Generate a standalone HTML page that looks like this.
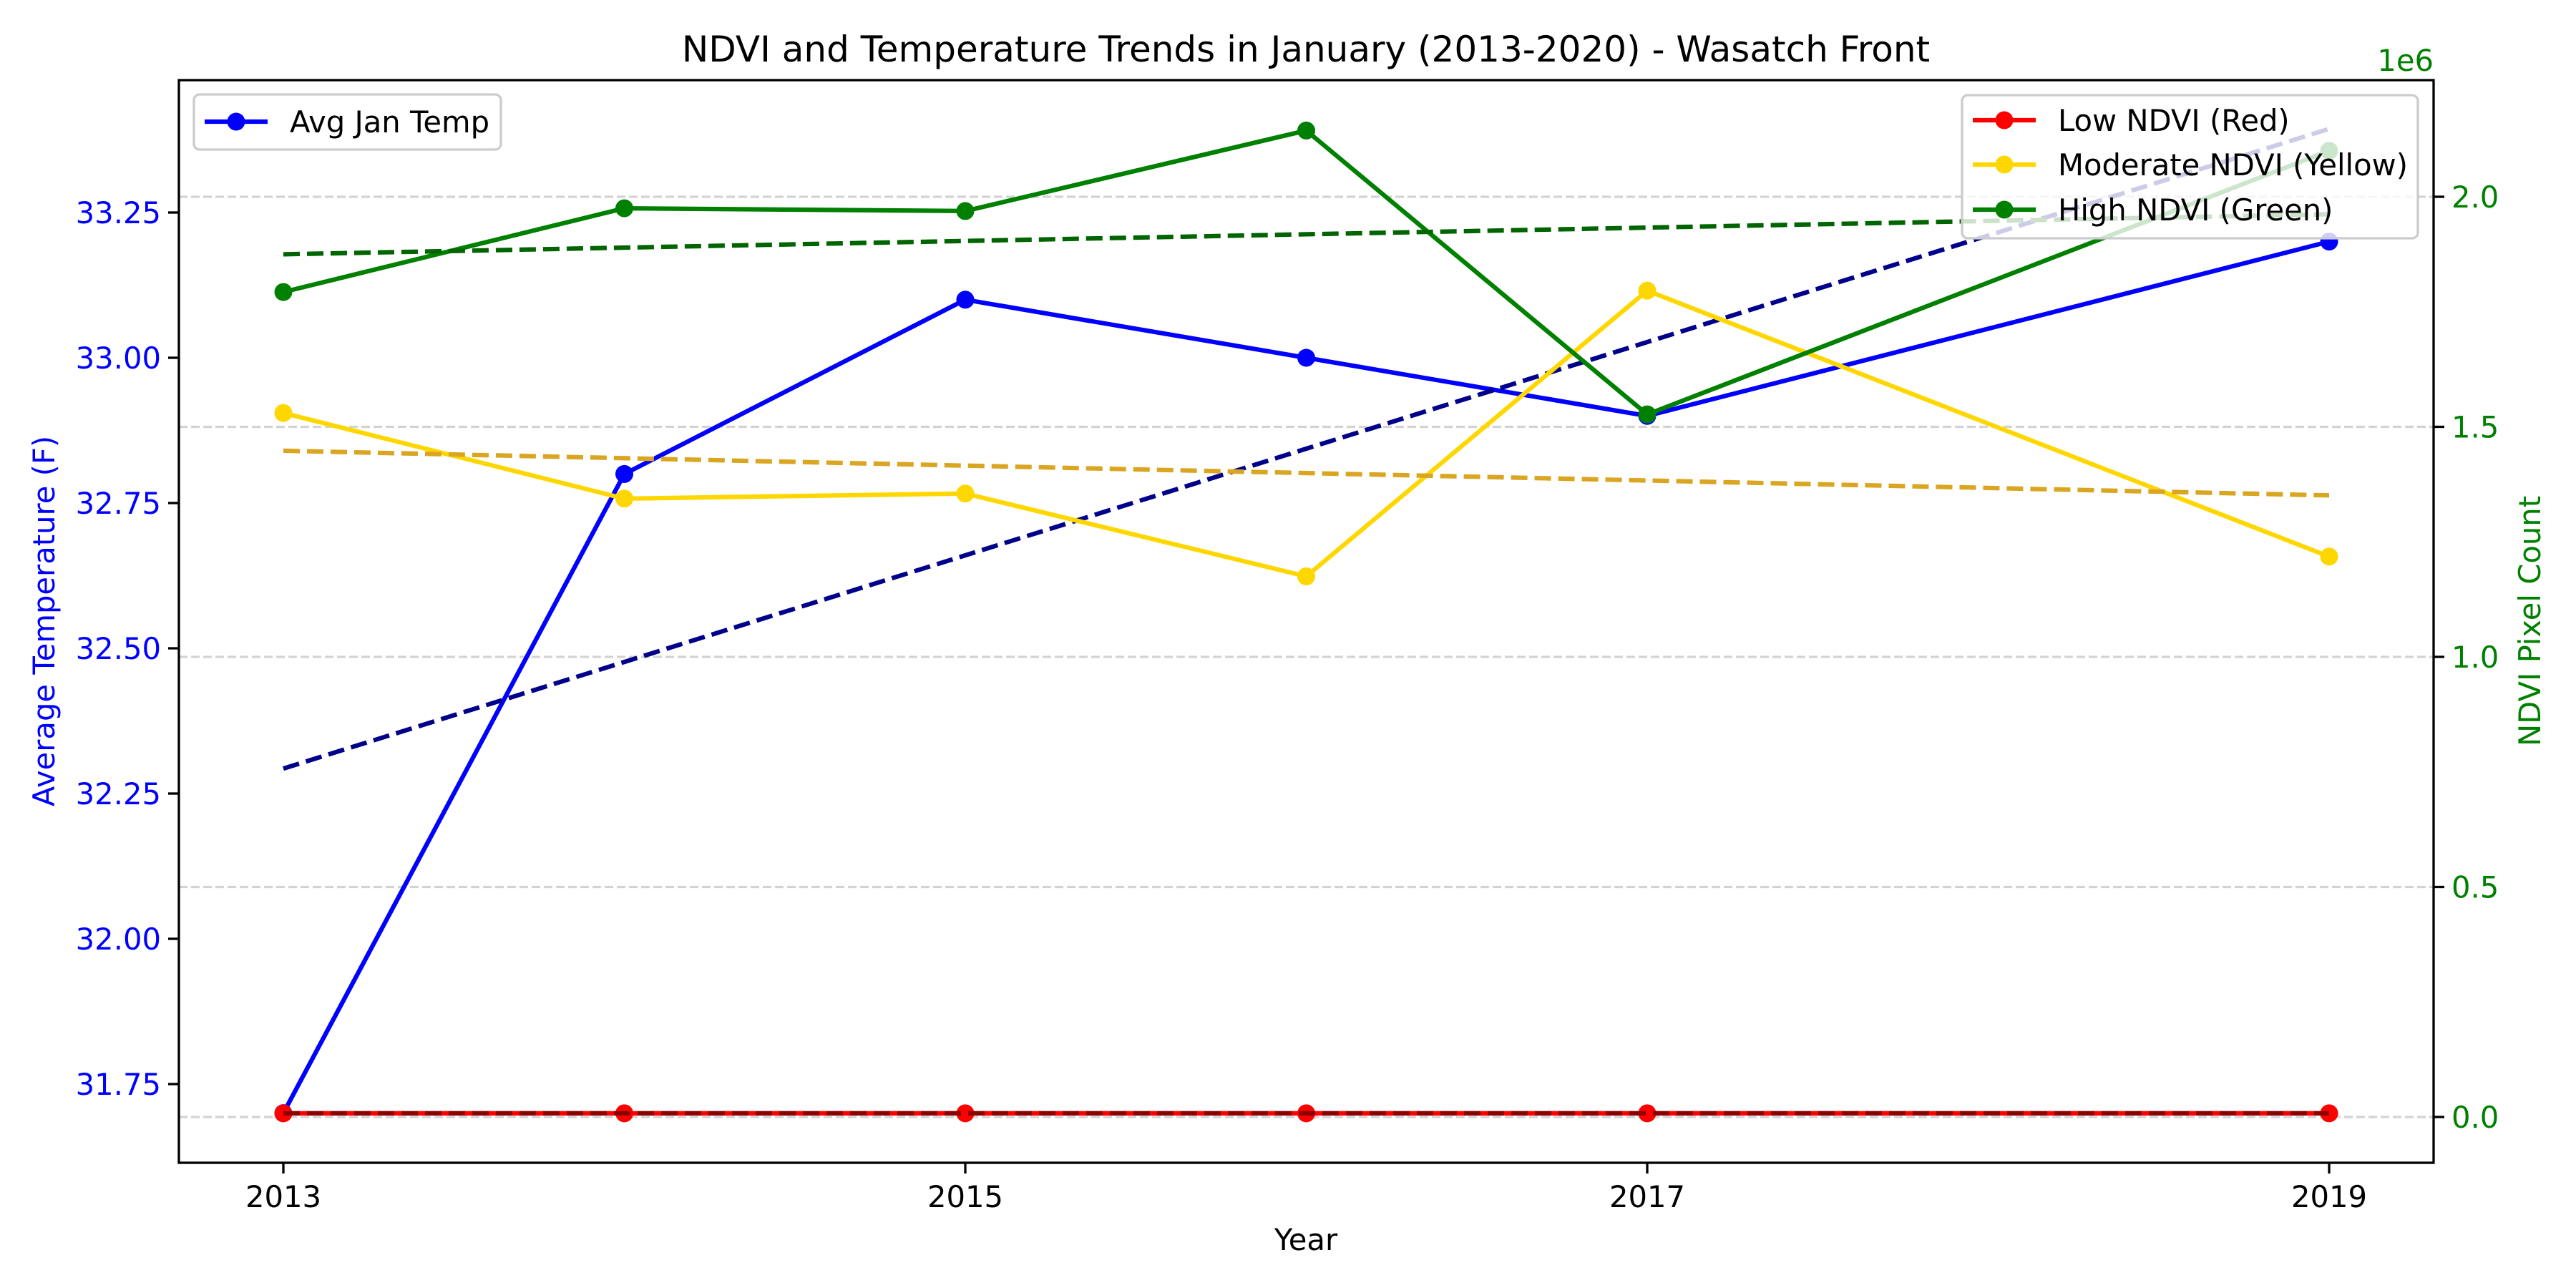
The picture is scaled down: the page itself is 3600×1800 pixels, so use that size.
<!DOCTYPE html>
<html><head><meta charset="utf-8"><style>
html,body{margin:0;padding:0;background:#fff}
svg{display:block;font-family:"DejaVu Sans","Liberation Sans",sans-serif}
</style></head><body>
<svg id="chart" width="3600" height="1800" viewBox="0 0 3600 1800" xmlns="http://www.w3.org/2000/svg">
<rect width="3600" height="1800" fill="#fff"/>
<g id="grid"></g>
<g id="series"></g>
<g id="axes"></g>
<g id="legends"></g>
</svg>
<script>
const years = [2013, 2014, 2015, 2016, 2017, 2019];
const tempValues = [31.70, 32.80, 33.10, 33.00, 32.90, 33.20];
const tempTrend = [32.293, 33.394];
const lowNdvi = [0.008, 0.008, 0.008, 0.008, 0.008, 0.008];
const lowTrend = [0.008, 0.008];
const modNdvi = [1.53, 1.344, 1.355, 1.175, 1.796, 1.218];
const modTrend = [1.448, 1.351];
const highNdvi = [1.793, 1.975, 1.969, 2.144, 1.527, 2.10];
const highTrend = [1.875, 1.962];
const xTicks = [2013, 2015, 2017, 2019];
const tempTicks = [31.75, 32.00, 32.25, 32.50, 32.75, 33.00, 33.25];
const ndviTicks = [0.0, 0.5, 1.0, 1.5, 2.0];

const NS = "http://www.w3.org/2000/svg";
const L = 250, R = 3401, T = 112, B = 1625;
const xs = y => 396 + (y - 2013) * 476.5;
const yT = v => 500 - (v - 33) * 812;
const yN = v => 1561 - v * 643;
function mk(tag, attrs, parent, text) {
  const e = document.createElementNS(NS, tag);
  for (const k in attrs) e.setAttribute(k, attrs[k]);
  if (text !== undefined) e.textContent = text;
  parent.appendChild(e);
  return e;
}
const grid = document.getElementById('grid');
const series = document.getElementById('series');
const axes = document.getElementById('axes');

ndviTicks.forEach(t => {
  const g = mk('line', {x1: L, x2: R, y1: yN(t), y2: yN(t), stroke: '#d3d3d3', 'stroke-width': 3.3, 'stroke-dasharray': '12 5'}, grid);
  
  
});

function drawSeries(vals, yf, color, name) {
  const pts = years.map((y, i) => xs(y) + ',' + yf(vals[i])).join(' ');
  const pl = mk('polyline', {points: pts, fill: 'none', stroke: color, 'stroke-width': 6.25, 'stroke-linejoin': 'round'}, series);
  
  
  years.forEach((y, i) => {
    const c = mk('circle', {cx: xs(y), cy: yf(vals[i]), r: 12.5, fill: color}, series);
    
    
  });
}
function drawTrend(vals, yf, color, name) {
  const l = mk('line', {x1: xs(years[0]), x2: xs(years[years.length - 1]), y1: yf(vals[0]), y2: yf(vals[1]), stroke: color, 'stroke-width': 6.25, 'stroke-dasharray': '23 10'}, series);
  
  
}
drawSeries(tempValues, yT, '#0000ff', 'avg-jan-temp');
drawTrend(tempTrend, yT, '#00008b', 'temp');
drawSeries(lowNdvi, yN, '#ff0000', 'low-ndvi');
drawTrend(lowTrend, yN, '#8b0000', 'low-ndvi');
drawSeries(modNdvi, yN, '#ffd700', 'moderate-ndvi');
drawTrend(modTrend, yN, '#daa520', 'moderate-ndvi');
drawSeries(highNdvi, yN, '#008000', 'high-ndvi');
drawTrend(highTrend, yN, '#006400', 'high-ndvi');

const fr = mk('rect', {x: L, y: T, width: R - L, height: B - T, fill: 'none', stroke: '#000', 'stroke-width': 3.3}, axes);



xTicks.forEach(t => {
  mk('line', {x1: xs(t), x2: xs(t), y1: B, y2: B + 15, stroke: '#000', 'stroke-width': 3.3}, axes);
  const tx = mk('text', {x: xs(t), y: 1687, 'font-size': 41.7, 'text-anchor': 'middle', fill: '#000'}, axes, String(t));
  
  
});
tempTicks.forEach(t => {
  mk('line', {x1: L - 15, x2: L, y1: yT(t), y2: yT(t), stroke: '#000', 'stroke-width': 3.3}, axes);
  const tx = mk('text', {x: L - 25, y: yT(t) + 15, 'font-size': 41.7, 'text-anchor': 'end', fill: '#0000ff'}, axes, t.toFixed(2));
  
  
});
ndviTicks.forEach(t => {
  mk('line', {x1: R, x2: R + 15, y1: yN(t), y2: yN(t), stroke: '#000', 'stroke-width': 3.3}, axes);
  const tx = mk('text', {x: R + 25, y: yN(t) + 15, 'font-size': 41.7, 'text-anchor': 'start', fill: '#008000'}, axes, t.toFixed(1));
  
  
});
</script>
<script>
(function(){
const NS = "http://www.w3.org/2000/svg";
const svg = document.getElementById('chart');
function t(attrs, text, name){
  const e = document.createElementNS(NS, 'text');
  for (const k in attrs) e.setAttribute(k, attrs[k]);
  e.textContent = text;
  
  
  svg.appendChild(e);
}
t({x: 1825, y: 86, 'font-size': 50, 'text-anchor': 'middle', fill: '#000'}, 'NDVI and Temperature Trends in January (2013-2020) - Wasatch Front', 'chart-title');
t({x: 1825, y: 1747, 'font-size': 41.7, 'text-anchor': 'middle', fill: '#000'}, 'Year', 'x-axis-title');
t({x: 76, y: 868, 'font-size': 41.7, 'text-anchor': 'middle', fill: '#0000ff', transform: 'rotate(-90 76 868)'}, 'Average Temperature (F)', 'left-y-axis-title');
t({x: 3550, y: 868, 'font-size': 41.7, 'text-anchor': 'middle', fill: '#008000', transform: 'rotate(-90 3550 868)'}, 'NDVI Pixel Count', 'right-y-axis-title');
t({x: 3401, y: 99, 'font-size': 41.7, 'text-anchor': 'end', fill: '#008000'}, '1e6', 'right-axis-offset-label');

function legend(x, y, w, h, entries, name){
  const g = document.createElementNS(NS, 'g');
  
  
  svg.appendChild(g);
  const r = document.createElementNS(NS, 'rect');
  const a = {x: x, y: y, width: w, height: h, rx: 8, fill: '#fff', 'fill-opacity': 0.8, stroke: '#cccccc', 'stroke-width': 3.3};
  for (const k in a) r.setAttribute(k, a[k]);
  g.appendChild(r);
  entries.forEach(en => {
    const l = document.createElementNS(NS, 'line');
    const la = {x1: x + 15, x2: x + 103, y1: en.y, y2: en.y, stroke: en.c, 'stroke-width': 6.25};
    for (const k in la) l.setAttribute(k, la[k]);
    g.appendChild(l);
    const c = document.createElementNS(NS, 'circle');
    const ca = {cx: x + 59, cy: en.y, r: 12.5, fill: en.c};
    for (const k in ca) c.setAttribute(k, ca[k]);
    g.appendChild(c);
    const tx = document.createElementNS(NS, 'text');
    const ta = {x: x + 134, y: en.y + 15, 'font-size': 41.7, fill: '#000'};
    for (const k in ta) tx.setAttribute(k, ta[k]);
    tx.textContent = en.t;
    
    
    g.appendChild(tx);
  });
}
legend(271, 132, 429, 77, [{y: 170, c: '#0000ff', t: 'Avg Jan Temp'}], 'temperature-legend');
legend(2742, 133, 637, 200, [{y: 168, c: '#ff0000', t: 'Low NDVI (Red)'}, {y: 230, c: '#ffd700', t: 'Moderate NDVI (Yellow)'}, {y: 293, c: '#008000', t: 'High NDVI (Green)'}], 'ndvi-legend');
})();
</script>
</body></html>
